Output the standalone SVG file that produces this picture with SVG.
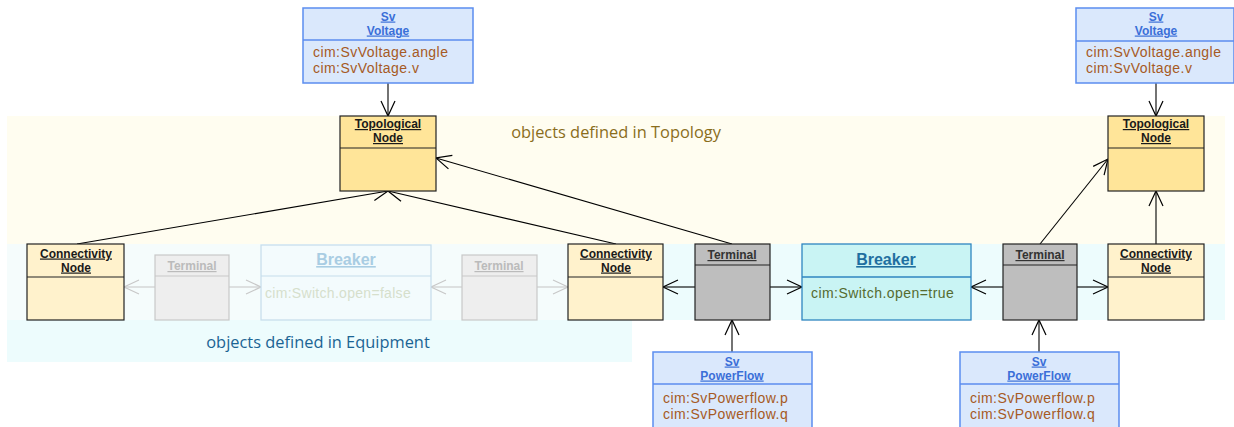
<svg xmlns="http://www.w3.org/2000/svg" width="1234" height="427" viewBox="0 0 1234 427">
<style>
text{font-family:"Liberation Sans",Arial,sans-serif}
.t{font-size:12px;font-weight:bold;text-anchor:middle;text-decoration:underline}
.tk{fill:#1a1a1a}
.tb{fill:#3a6fd8}
.attr{font-size:14px;letter-spacing:0.45px;fill:#a65a24}
.band{font-family:"Open Sans","Liberation Sans",sans-serif;font-size:16.4px;text-anchor:middle}
.box{stroke:#222;stroke-width:1.2}
.sv{fill:#dae8fc;stroke:#5b8def;stroke-width:1.5}
.tn{fill:#ffe599}
.cn{fill:#fff2cc}
.term{fill:#bebebe}
.fterm{fill:#eeeeee;stroke:#c8c8c8;stroke-width:1.2}
.ftx{fill:#bbbbbb}
.ln{stroke:#000;stroke-width:1.1;fill:none}
.fln{stroke:#c8c8c8;stroke-width:1.1;fill:none}
</style>
<defs>
<marker id="a" markerUnits="userSpaceOnUse" markerWidth="18" markerHeight="16" refX="16" refY="8" orient="auto"><path d="M1,1 L16,8 L1,15" fill="none" stroke="#000" stroke-width="1.2"/></marker>
<marker id="f" markerUnits="userSpaceOnUse" markerWidth="18" markerHeight="16" refX="16" refY="8" orient="auto"><path d="M1,1 L16,8 L1,15" fill="none" stroke="#c8c8c8" stroke-width="1.2"/></marker>
</defs>
<g id="bands">
<rect x="7" y="116" width="1218" height="128" fill="#fffdf0"/>
<rect x="7" y="244" width="1218" height="76" fill="#edfcfd"/>
<rect x="7" y="320" width="625" height="42" fill="#edfcfd"/>
<rect x="7" y="244" width="600" height="76" fill="#f5fcfc"/>
<text class="band" x="616" y="138" fill="#8a6d1c">objects defined in Topology</text>
<text class="band" x="318" y="348" fill="#1b6494">objects defined in Equipment</text>
</g>
<g id="connectors">
<line class="ln" x1="388" y1="83" x2="388" y2="116" marker-end="url(#a)"/>
<line class="ln" x1="1156" y1="83" x2="1156" y2="116" marker-end="url(#a)"/>
<line class="ln" x1="77" y1="244" x2="388" y2="191" marker-end="url(#a)"/>
<line class="ln" x1="616" y1="244" x2="388" y2="191" marker-end="url(#a)"/>
<line class="ln" x1="732" y1="244" x2="436" y2="158" marker-end="url(#a)"/>
<line class="ln" x1="1040" y1="244" x2="1108" y2="159" marker-end="url(#a)"/>
<line class="ln" x1="1156" y1="244" x2="1156" y2="191" marker-end="url(#a)"/>
<line class="ln" x1="695" y1="287" x2="663" y2="287" marker-end="url(#a)"/>
<line class="ln" x1="770" y1="287" x2="802" y2="287" marker-end="url(#a)"/>
<line class="ln" x1="1003" y1="287" x2="971" y2="287" marker-end="url(#a)"/>
<line class="ln" x1="1077" y1="287" x2="1108" y2="287" marker-end="url(#a)"/>
<line class="ln" x1="732" y1="352" x2="732" y2="320" marker-end="url(#a)"/>
<line class="ln" x1="1039" y1="352" x2="1039" y2="320" marker-end="url(#a)"/>
<line class="fln" x1="155" y1="287" x2="124" y2="287" marker-end="url(#f)"/>
<line class="fln" x1="229" y1="287" x2="261" y2="287" marker-end="url(#f)"/>
<line class="fln" x1="462" y1="287" x2="431" y2="287" marker-end="url(#f)"/>
<line class="fln" x1="537" y1="287" x2="568" y2="287" marker-end="url(#f)"/>
</g>
<g id="svvoltage1">
<rect class="sv" x="303" y="8" width="170" height="75"/>
<line x1="303" y1="40" x2="473" y2="40" stroke="#5b8def" stroke-width="1.5"/>
<text class="t tb" x="388" y="20.5">Sv</text>
<text class="t tb" x="388" y="34.5">Voltage</text>
<text class="attr" x="313" y="57.3">cim:SvVoltage.angle</text>
<text class="attr" x="313" y="73">cim:SvVoltage.v</text>
</g>
<g id="svvoltage2">
<rect class="sv" x="1076" y="8" width="158" height="75"/>
<line x1="1076" y1="41" x2="1234" y2="41" stroke="#5b8def" stroke-width="1.5"/>
<text class="t tb" x="1156" y="20.5">Sv</text>
<text class="t tb" x="1156" y="34.5">Voltage</text>
<text class="attr" x="1086" y="57.3">cim:SvVoltage.angle</text>
<text class="attr" x="1086" y="73">cim:SvVoltage.v</text>
</g>
<g id="topnode1">
<rect class="box tn" x="340" y="116" width="96" height="75"/>
<line class="box" x1="340" y1="148" x2="436" y2="148"/>
<text class="t tk" x="388" y="128">Topological</text>
<text class="t tk" x="388" y="142">Node</text>
</g>
<g id="topnode2">
<rect class="box tn" x="1108" y="116" width="96" height="75"/>
<line class="box" x1="1108" y1="148" x2="1204" y2="148"/>
<text class="t tk" x="1156" y="128">Topological</text>
<text class="t tk" x="1156" y="142">Node</text>
</g>
<g id="connnode1">
<rect class="box cn" x="27" y="244" width="97" height="76"/>
<line class="box" x1="27" y1="277" x2="124" y2="277"/>
<text class="t tk" x="76" y="257.5">Connectivity</text>
<text class="t tk" x="76" y="271.5">Node</text>
</g>
<g id="terminal-faded1">
<rect class="fterm" x="155" y="255" width="74" height="65"/>
<line x1="155" y1="276" x2="229" y2="276" stroke="#c8c8c8" stroke-width="1.2"/>
<text class="t ftx" x="192" y="270">Terminal</text>
</g>
<g id="breaker-faded">
<rect x="261" y="245" width="170" height="75" fill="#f3fbfd" stroke="#c5ddeb" stroke-width="1.2"/>
<line x1="261" y1="276" x2="431" y2="276" stroke="#c5ddeb" stroke-width="1.2"/>
<text x="346" y="265" font-size="16" font-weight="bold" text-anchor="middle" text-decoration="underline" fill="#a9cde3">Breaker</text>
<text class="attr" x="265" y="298" style="fill:#d6dfcc;letter-spacing:0.3px">cim:Switch.open=false</text>
</g>
<g id="terminal-faded2">
<rect class="fterm" x="462" y="255" width="75" height="65"/>
<line x1="462" y1="276" x2="537" y2="276" stroke="#c8c8c8" stroke-width="1.2"/>
<text class="t ftx" x="499" y="270">Terminal</text>
</g>
<g id="connnode2">
<rect class="box cn" x="568" y="244" width="95" height="76"/>
<line class="box" x1="568" y1="277" x2="663" y2="277"/>
<text class="t tk" x="616" y="257.5">Connectivity</text>
<text class="t tk" x="616" y="271.5">Node</text>
</g>
<g id="terminal1">
<rect class="box term" x="695" y="244" width="75" height="76"/>
<line class="box" x1="695" y1="265" x2="770" y2="265"/>
<text class="t" x="732" y="259" fill="#333">Terminal</text>
</g>
<g id="breaker">
<rect x="802" y="244" width="169" height="76" fill="#c9f4f4" stroke="#2e86c1" stroke-width="1.3"/>
<line x1="802" y1="277" x2="971" y2="277" stroke="#2e86c1" stroke-width="1.3"/>
<text x="886" y="265" font-size="16" font-weight="bold" text-anchor="middle" text-decoration="underline" fill="#1f6fa0">Breaker</text>
<text class="attr" x="811" y="298" style="fill:#556b2f">cim:Switch.open=true</text>
</g>
<g id="terminal2">
<rect class="box term" x="1003" y="244" width="74" height="76"/>
<line class="box" x1="1003" y1="265" x2="1077" y2="265"/>
<text class="t" x="1040" y="259" fill="#333">Terminal</text>
</g>
<g id="connnode3">
<rect class="box cn" x="1108" y="244" width="96" height="76"/>
<line class="box" x1="1108" y1="277" x2="1204" y2="277"/>
<text class="t tk" x="1156" y="257.5">Connectivity</text>
<text class="t tk" x="1156" y="271.5">Node</text>
</g>
<g id="svpowerflow1">
<rect class="sv" x="653" y="352" width="159" height="80"/>
<line x1="653" y1="384" x2="812" y2="384" stroke="#5b8def" stroke-width="1.5"/>
<text class="t tb" x="732" y="365.5">Sv</text>
<text class="t tb" x="732" y="379.5">PowerFlow</text>
<text class="attr" x="663" y="402.8">cim:SvPowerflow.p</text>
<text class="attr" x="663" y="418.5">cim:SvPowerflow.q</text>
</g>
<g id="svpowerflow2">
<rect class="sv" x="960" y="352" width="159" height="80"/>
<line x1="960" y1="384" x2="1119" y2="384" stroke="#5b8def" stroke-width="1.5"/>
<text class="t tb" x="1039" y="365.5">Sv</text>
<text class="t tb" x="1039" y="379.5">PowerFlow</text>
<text class="attr" x="970" y="402.8">cim:SvPowerflow.p</text>
<text class="attr" x="970" y="418.5">cim:SvPowerflow.q</text>
</g>
</svg>
